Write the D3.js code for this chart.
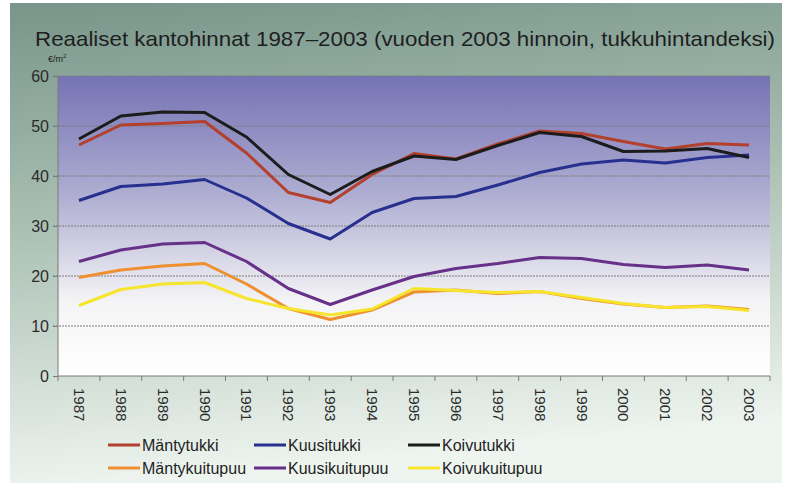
<!DOCTYPE html>
<html>
<head>
<meta charset="utf-8">
<script src="https://cdn.jsdelivr.net/npm/d3@7"></script>
<style>
    html, body { margin: 0; padding: 0; background: #ffffff; }
    svg { display: block; font-family: "Liberation Sans", Arial, sans-serif; }
    .grid line { stroke: #7a7a7a; stroke-width: 1; stroke-dasharray: 2,1; }
    .axis path, .axis line { stroke: #7a7a7a; }
    .axis text { fill: #2a2a2a; }
</style>
</head>
<body>
<div id="chart"></div>
<script>
"use strict";

var years = ["1987", "1988", "1989", "1990", "1991", "1992", "1993", "1994", "1995",
    "1996", "1997", "1998", "1999", "2000", "2001", "2002", "2003"];
var yTicks = [0, 10, 20, 30, 40, 50, 60];

var mantytukki = [46.2, 50.2, 50.5, 50.9, 44.6, 36.7, 34.7, 40.3, 44.5, 43.4, 46.4, 49.0, 48.5, 46.9, 45.4, 46.5, 46.2];
var kuusitukki = [35.1, 37.9, 38.4, 39.3, 35.6, 30.5, 27.4, 32.7, 35.5, 35.9, 38.2, 40.7, 42.4, 43.2, 42.6, 43.7, 44.2];
var koivutukki = [47.4, 52.0, 52.8, 52.7, 47.8, 40.3, 36.3, 40.9, 44.0, 43.3, 46.1, 48.7, 47.9, 44.9, 45.0, 45.5, 43.7];
var mantykuitupuu = [19.7, 21.2, 22.0, 22.5, 18.4, 13.5, 11.3, 13.2, 16.8, 17.2, 16.5, 16.9, 15.5, 14.4, 13.7, 14.0, 13.3];
var kuusikuitupuu = [22.9, 25.2, 26.4, 26.7, 22.9, 17.5, 14.3, 17.2, 19.9, 21.5, 22.5, 23.7, 23.5, 22.3, 21.7, 22.2, 21.2];
var koivukuitupuu = [14.1, 17.3, 18.4, 18.7, 15.5, 13.5, 12.2, 13.4, 17.5, 17.1, 16.7, 16.9, 15.7, 14.5, 13.7, 13.9, 13.1];

var series = [
    { name: "Mäntytukki", values: mantytukki, color: "#b3402c" },
    { name: "Kuusitukki", values: kuusitukki, color: "#27308f" },
    { name: "Koivutukki", values: koivutukki, color: "#1c1c1c" },
    { name: "Mäntykuitupuu", values: mantykuitupuu, color: "#ef9030" },
    { name: "Kuusikuitupuu", values: kuusikuitupuu, color: "#67318a" },
    { name: "Koivukuitupuu", values: koivukuitupuu, color: "#f6e52c" }
];

var width = 789, height = 483;
var plot = { left: 58, top: 76, right: 770, bottom: 376 };

var svg = d3.select("#chart").append("svg")
    .attr("width", width)
    .attr("height", height);

var defs = svg.append("defs");
var bgGrad = defs.append("linearGradient")
    .attr("id", "bgGrad")
    .attr("x1", 0).attr("y1", 0).attr("x2", 0.15).attr("y2", 1);
bgGrad.append("stop").attr("offset", "0%").attr("stop-color", "#78958a");
bgGrad.append("stop").attr("offset", "45%").attr("stop-color", "#a9bfb2");
bgGrad.append("stop").attr("offset", "100%").attr("stop-color", "#eef4ef");

var plotGrad = defs.append("linearGradient")
    .attr("id", "plotGrad")
    .attr("x1", 0).attr("y1", 0).attr("x2", 0).attr("y2", 1);
plotGrad.append("stop").attr("offset", "0%").attr("stop-color", "#7573b4");
plotGrad.append("stop").attr("offset", "40%").attr("stop-color", "#afaed2");
plotGrad.append("stop").attr("offset", "75%").attr("stop-color", "#f4f4f6");
plotGrad.append("stop").attr("offset", "100%").attr("stop-color", "#ffffff");

svg.append("rect")
    .attr("x", 10).attr("y", 3)
    .attr("width", 772).attr("height", height - 3)
    .attr("fill", "url(#bgGrad)");

var x = d3.scaleBand()
    .domain(years)
    .range([plot.left, plot.right]);

var y = d3.scaleLinear()
    .domain([0, 60])
    .range([plot.bottom, plot.top]);

svg.append("rect")
    .attr("x", plot.left).attr("y", plot.top)
    .attr("width", plot.right - plot.left)
    .attr("height", plot.bottom - plot.top)
    .attr("fill", "url(#plotGrad)");

svg.append("g")
    .attr("class", "grid")
    .selectAll("line")
    .data(yTicks.filter(function (d) { return d > 0; }))
    .enter().append("line")
        .attr("x1", plot.left - 5)
        .attr("x2", plot.right)
        .attr("y1", function (d) { return y(d); })
        .attr("y2", function (d) { return y(d); })
;

// y axis
var yAxis = svg.append("g")
    .attr("class", "axis")
    .attr("transform", "translate(" + plot.left + ",0)")
    .call(d3.axisLeft(y).tickValues(yTicks).tickSize(5).tickPadding(4));
yAxis.selectAll("text").style("font-size", "16px");
yAxis.select(".domain").attr("d", "M0," + plot.top + "V" + plot.bottom);

// x axis: ticks sit on band boundaries, labels turned on their side
var xAxis = svg.append("g")
    .attr("class", "axis")
    .attr("transform", "translate(0," + plot.bottom + ")");
xAxis.append("line")
    .attr("x1", plot.left).attr("x2", plot.right)
    .attr("y1", 0).attr("y2", 0);
xAxis.selectAll(".tk")
    .data(years.concat(["end"]))
    .enter().append("line")
        .attr("class", "tk")
        .attr("x1", function (d, i) { return plot.left + i * x.bandwidth(); })
        .attr("x2", function (d, i) { return plot.left + i * x.bandwidth(); })
        .attr("y1", 0).attr("y2", 5)
;
xAxis.selectAll("text")
    .data(years)
    .enter().append("text")
        .attr("transform", function (d) {
            return "translate(" + (x(d) + x.bandwidth() / 2 - 5) + ",12)rotate(90)";
        })
        .style("font-size", "15px")
        .text(function (d) { return d; })
;

var line = d3.line()
    .x(function (d, i) { return x(years[i]) + x.bandwidth() / 2; })
    .y(function (d) { return y(d); });

svg.append("g").selectAll("path")
    .data(series)
    .enter().append("path")
        .attr("fill", "none")
        .attr("stroke", function (d) { return d.color; })
        .attr("stroke-width", 3)
        .attr("stroke-linejoin", "round")
        .attr("d", function (d) { return line(d.values); })
;

// title and unit
svg.append("text")
    .attr("x", 35).attr("y", 46)
    .attr("textLength", 740)
    .attr("lengthAdjust", "spacingAndGlyphs")
    .style("font-size", "21px")
    .style("fill", "#1e1e1e")
    .text("Reaaliset kantohinnat 1987–2003 (vuoden 2003 hinnoin, tukkuhintandeksi)");

var unit = svg.append("text")
    .attr("x", 48).attr("y", 62)
    .style("font-size", "9px")
    .style("fill", "#1e1e1e")
    .text("€/m");
unit.append("tspan").attr("dy", -4).style("font-size", "6px").text("2");

// legend
var legendCols = [108, 254, 408];
var legend = svg.append("g").selectAll("g")
    .data(series)
    .enter().append("g")
        .attr("transform", function (d, i) {
            return "translate(" + legendCols[i % 3] + "," + (445 + Math.floor(i / 3) * 23) + ")";
        });
legend.append("line")
    .attr("x1", 0).attr("x2", 32)
    .attr("y1", 0).attr("y2", 0)
    .attr("stroke", function (d) { return d.color; })
    .attr("stroke-width", 3);
legend.append("text")
    .attr("x", 34).attr("y", 6)
    .style("font-size", "16px")
    .style("fill", "#1e1e1e")
    .text(function (d) { return d.name; });
</script>
</body>
</html>
